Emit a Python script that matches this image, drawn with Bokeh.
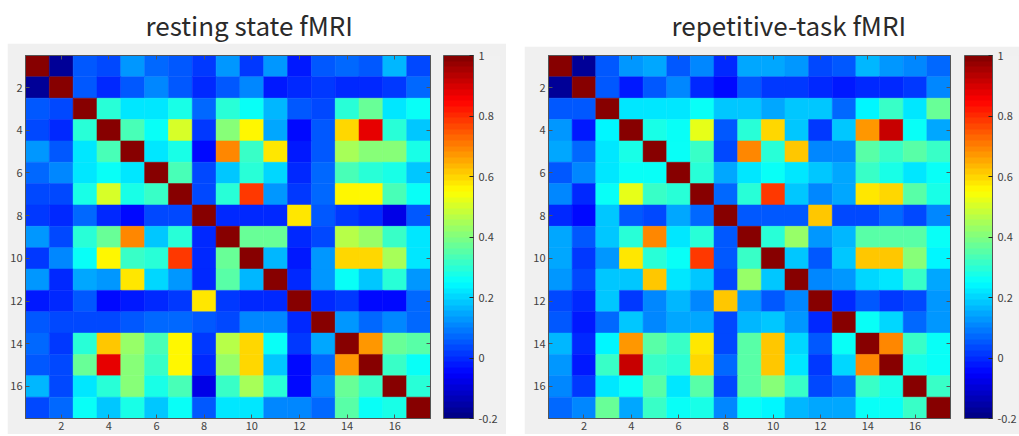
import numpy as np
from bokeh.plotting import figure
from bokeh.models import (ColumnDataSource, LinearColorMapper, ColorBar, FixedTicker,
                          PrintfTickFormatter, LinearAxis, Range1d, Spacer, CustomJSTickFormatter)
from bokeh.layouts import row, column
from bokeh.transform import transform
from bokeh.core.properties import value
from bokeh.embed import file_html
from bokeh.resources import INLINE

# ---------------- data ----------------
regions = list(range(1, 18))
axis_ticks = [2, 4, 6, 8, 10, 12, 14, 16]
cbar_ticks = [-0.2, 0, 0.2, 0.4, 0.6, 0.8, 1]
color_low, color_high = -0.2, 1.0

title_rest = "resting state fMRI"
title_task = "repetitive-task fMRI"

rest_corr = [
    [1, -0.18, 0.06, 0.04, 0.12, 0.08, 0.06, 0.02, 0.12, 0.02, 0.12, -0.03, 0.06, 0.08, 0.06, 0.16, 0.04],
    [-0.18, 1, 0.06, 0.0, 0.06, 0.1, 0.06, -0.01, 0.06, 0.1, -0.03, -0.01, 0.02, 0.0, 0.0, 0.02, 0.08],
    [0.06, 0.04, 1, 0.29, 0.23, 0.23, 0.28, 0.08, 0.29, 0.25, 0.16, 0.06, 0.04, 0.29, 0.38, 0.22, 0.25],
    [0.04, 0.0, 0.29, 1, 0.34, 0.26, 0.5, 0.02, 0.4, 0.55, 0.14, -0.05, 0.06, 0.6, 0.88, 0.3, 0.18],
    [0.12, 0.06, 0.23, 0.34, 1, 0.23, 0.28, -0.05, 0.69, 0.31, 0.58, -0.03, 0.06, 0.44, 0.4, 0.4, 0.28],
    [0.08, 0.1, 0.23, 0.26, 0.23, 1, 0.34, 0.04, 0.18, 0.3, 0.2, 0.0, 0.08, 0.34, 0.3, 0.28, 0.18],
    [0.04, 0.04, 0.28, 0.5, 0.28, 0.32, 1, 0.04, 0.3, 0.78, 0.12, 0.02, 0.08, 0.55, 0.55, 0.34, 0.26],
    [0.02, -0.01, 0.08, 0.0, -0.05, 0.04, 0.04, 1, 0.0, -0.01, -0.01, 0.58, 0.06, 0.02, 0.0, -0.08, 0.06],
    [0.12, 0.04, 0.29, 0.38, 0.69, 0.18, 0.3, 0.0, 1, 0.38, 0.38, 0.0, 0.04, 0.46, 0.42, 0.32, 0.22],
    [0.02, 0.1, 0.25, 0.55, 0.32, 0.3, 0.78, 0.0, 0.37, 1, 0.16, -0.03, 0.12, 0.6, 0.59, 0.44, 0.23],
    [0.12, -0.01, 0.14, 0.12, 0.57, 0.2, 0.12, -0.01, 0.36, 0.16, 1, 0.0, 0.12, 0.25, 0.18, 0.3, 0.12],
    [-0.03, 0.0, 0.06, -0.05, -0.03, 0.0, 0.02, 0.57, 0.02, -0.01, 0.0, 1, -0.01, 0.02, -0.05, -0.05, 0.08],
    [0.06, 0.04, 0.04, 0.04, 0.06, 0.08, 0.08, 0.06, 0.04, 0.1, 0.1, 0.0, 1, 0.12, 0.08, 0.1, 0.08],
    [0.08, 0.02, 0.29, 0.61, 0.42, 0.34, 0.55, 0.02, 0.46, 0.59, 0.25, 0.02, 0.14, 1, 0.68, 0.38, 0.36],
    [0.06, 0.04, 0.38, 0.88, 0.4, 0.32, 0.55, 0.0, 0.42, 0.59, 0.18, -0.05, 0.08, 0.68, 1, 0.32, 0.25],
    [0.16, 0.04, 0.22, 0.3, 0.4, 0.28, 0.34, -0.08, 0.32, 0.44, 0.3, -0.05, 0.1, 0.38, 0.32, 1, 0.29],
    [0.04, 0.08, 0.25, 0.18, 0.28, 0.19, 0.26, 0.06, 0.23, 0.23, 0.1, 0.1, 0.08, 0.36, 0.25, 0.28, 1],
]

task_corr = [
    [1, -0.18, 0.06, 0.12, 0.14, 0.06, 0.1, -0.01, 0.14, 0.14, 0.12, 0.04, 0.06, 0.16, 0.12, 0.1, 0.08],
    [-0.18, 1, 0.06, -0.03, 0.06, 0.1, 0.0, -0.05, 0.06, 0.02, 0.02, -0.01, -0.03, -0.01, -0.01, 0.02, 0.1],
    [0.06, 0.06, 1, 0.23, 0.23, 0.23, 0.25, 0.18, 0.18, 0.14, 0.18, 0.18, 0.08, 0.24, 0.32, 0.22, 0.38],
    [0.12, -0.03, 0.24, 1, 0.28, 0.25, 0.52, 0.06, 0.3, 0.59, 0.18, 0.02, 0.18, 0.68, 0.92, 0.25, 0.14],
    [0.14, 0.08, 0.23, 0.28, 1, 0.25, 0.32, 0.04, 0.69, 0.3, 0.61, 0.1, 0.1, 0.36, 0.32, 0.36, 0.32],
    [0.06, 0.1, 0.23, 0.25, 0.25, 1, 0.3, 0.14, 0.22, 0.25, 0.22, 0.18, 0.14, 0.32, 0.28, 0.22, 0.25],
    [0.1, 0.0, 0.25, 0.52, 0.32, 0.3, 1, 0.08, 0.3, 0.78, 0.18, 0.1, 0.14, 0.58, 0.6, 0.36, 0.28],
    [-0.01, -0.05, 0.18, 0.06, 0.04, 0.14, 0.08, 1, 0.06, 0.06, 0.06, 0.62, 0.04, 0.04, 0.08, 0.04, 0.1],
    [0.14, 0.06, 0.18, 0.3, 0.69, 0.22, 0.3, 0.06, 1, 0.3, 0.42, 0.12, 0.16, 0.36, 0.36, 0.36, 0.25],
    [0.14, 0.02, 0.12, 0.58, 0.3, 0.26, 0.78, 0.06, 0.32, 1, 0.18, 0.06, 0.18, 0.62, 0.62, 0.4, 0.24],
    [0.12, 0.04, 0.18, 0.18, 0.61, 0.22, 0.18, 0.04, 0.42, 0.18, 1, 0.1, 0.12, 0.2, 0.22, 0.32, 0.14],
    [0.04, -0.01, 0.18, 0.02, 0.1, 0.16, 0.1, 0.62, 0.12, 0.06, 0.1, 1, 0.0, 0.06, 0.02, 0.04, 0.12],
    [0.06, -0.03, 0.08, 0.18, 0.1, 0.14, 0.14, 0.04, 0.16, 0.18, 0.12, 0.0, 1, 0.25, 0.2, 0.08, 0.12],
    [0.16, -0.01, 0.24, 0.68, 0.36, 0.32, 0.58, 0.04, 0.36, 0.62, 0.2, 0.06, 0.25, 1, 0.69, 0.32, 0.26],
    [0.12, -0.03, 0.32, 0.92, 0.32, 0.3, 0.6, 0.08, 0.36, 0.62, 0.22, 0.02, 0.2, 0.69, 1, 0.28, 0.25],
    [0.1, 0.02, 0.23, 0.25, 0.36, 0.22, 0.36, 0.04, 0.36, 0.4, 0.32, 0.04, 0.08, 0.32, 0.28, 1, 0.32],
    [0.08, 0.1, 0.38, 0.14, 0.32, 0.25, 0.28, 0.1, 0.25, 0.24, 0.16, 0.14, 0.14, 0.26, 0.25, 0.32, 1],
]

# ---------------- colormap (MATLAB-like jet, 64 levels) ----------------
def jet_palette(n=64):
    pal = []
    for i in range(n):
        t = (i + 0.5) / n
        r = min(max(1.5 - abs(4 * t - 3), 0), 1)
        g = min(max(1.5 - abs(4 * t - 2), 0), 1)
        b = min(max(1.5 - abs(4 * t - 1), 0), 1)
        pal.append("#%02x%02x%02x" % (int(round(r * 255)), int(round(g * 255)), int(round(b * 255))))
    return pal

JET = jet_palette(64)
PANEL_BG = "#f0f0f0"
AX_COLOR = "#555555"
LABEL_COLOR = "#404040"
FONT = "Noto Sans CJK JP"


def title_fig(text, w, h, left_x, cy):
    t = figure(frame_width=w, frame_height=h, x_range=Range1d(0, w), y_range=Range1d(0, h),
               toolbar_location=None, output_backend="svg", min_border=0,
               x_axis_location=None, y_axis_location=None, outline_line_color=None)
    t.grid.visible = False
    t.text(x=[left_x], y=[h - cy], text=[text], text_align="left", text_baseline="middle",
           text_font=value(FONT), text_font_size="26px", text_color="#2a2a2a")
    return t


def heat_panel(mat, frame_w, frame_h, left_b, right_b, top_b, bottom_b, cb_w, cb_gap):
    xs, ys, vs = [], [], []
    for i, rv in enumerate(mat):
        for j, v in enumerate(rv):
            xs.append(regions[j])
            ys.append(regions[i])
            vs.append(v)
    src = ColumnDataSource(dict(x=xs, y=ys, v=vs))
    mapper = LinearColorMapper(palette=JET, low=color_low, high=color_high)

    p = figure(frame_width=frame_w, frame_height=frame_h,
               x_range=Range1d(0.5, 17.5), y_range=Range1d(17.5, 0.5),
               toolbar_location=None, output_backend="svg",
               min_border_left=left_b, min_border_right=right_b,
               min_border_top=top_b, min_border_bottom=bottom_b)
    p.border_fill_color = PANEL_BG
    p.background_fill_color = PANEL_BG
    p.outline_line_color = AX_COLOR
    p.grid.visible = False

    p.rect("x", "y", 1, 1, source=src, fill_color=transform("v", mapper),
           line_color=transform("v", mapper), line_width=0.5)

    for ax in (p.xaxis[0], p.yaxis[0]):
        ax.ticker = FixedTicker(ticks=axis_ticks)
        ax.major_tick_in = 4
        ax.major_tick_out = 0
        ax.minor_tick_line_color = None
        ax.axis_line_color = AX_COLOR
        ax.major_tick_line_color = AX_COLOR
        ax.major_label_text_font = FONT
        ax.major_label_text_font_size = "11px"
        ax.major_label_text_color = LABEL_COLOR
        ax.major_label_standoff = 3

    for loc in ("above", "right"):
        ax = LinearAxis(ticker=FixedTicker(ticks=axis_ticks),
                        formatter=CustomJSTickFormatter(code="return ''"),
                        major_tick_in=4, major_tick_out=0, minor_tick_line_color=None,
                        axis_line_color=AX_COLOR, major_tick_line_color=AX_COLOR,
                        major_label_standoff=0, major_label_text_font_size="1px")
        p.add_layout(ax, loc)

    cb = ColorBar(color_mapper=mapper, ticker=FixedTicker(ticks=cbar_ticks),
                  formatter=PrintfTickFormatter(format="%g"),
                  width=cb_w, height=frame_h, padding=0, margin=0, location=(cb_gap, 0),
                  background_fill_color=PANEL_BG, border_line_color=None,
                  bar_line_color=AX_COLOR, major_tick_line_color="#262626",
                  major_tick_in=4, major_tick_out=0, label_standoff=5,
                  major_label_text_font=FONT, major_label_text_font_size="11px",
                  major_label_text_color=LABEL_COLOR)
    p.add_layout(cb, "right")
    return p


# left column: x 7..506 ; right column: x 524..1017
p1 = heat_panel(rest_corr, 405, 363, 18, 76, 12, 16, 30, 13)
p2 = heat_panel(task_corr, 402, 363, 24, 67, 9, 16, 28, 14)
t1 = title_fig(title_rest, 499, 43, 120, 24)
t2 = title_fig(title_task, 493, 46, 123, 24)

layout = row(Spacer(width=7, height=10),
             column(t1, p1),
             Spacer(width=18, height=10),
             column(t2, p2))

open("out.html", "w").write(file_html(layout, INLINE))
